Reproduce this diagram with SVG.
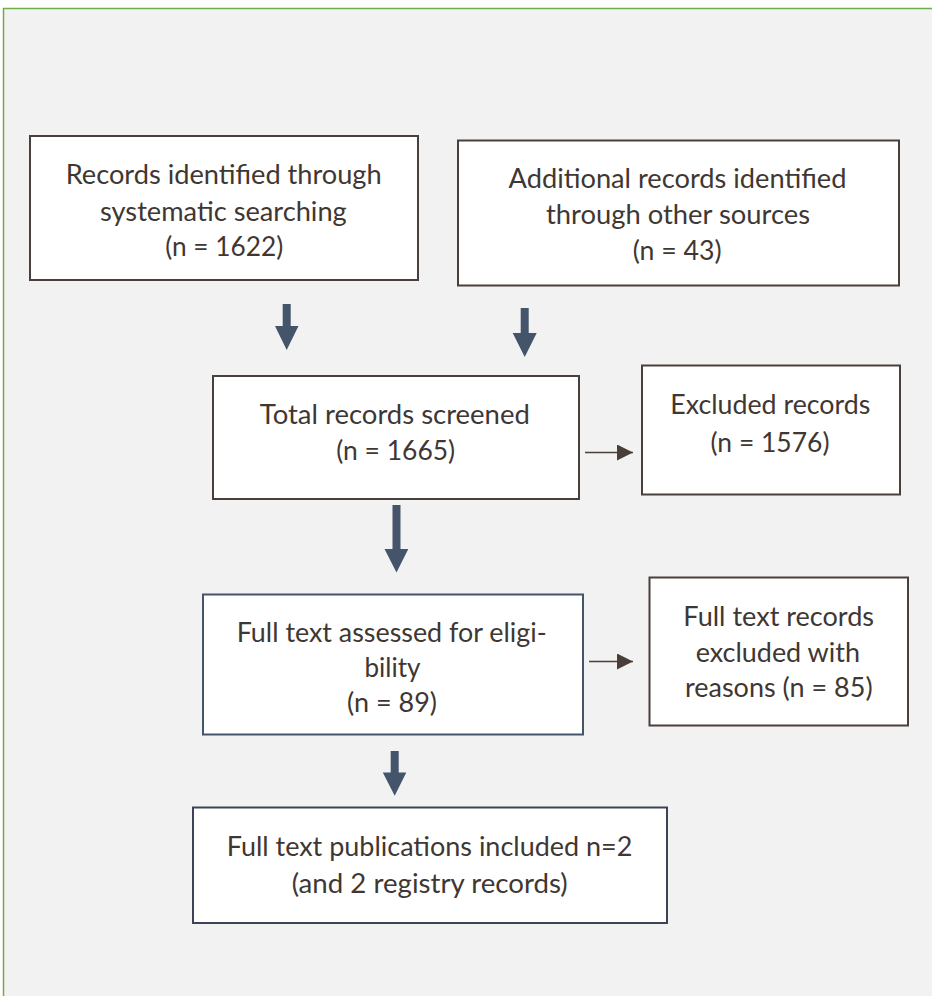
<svg xmlns="http://www.w3.org/2000/svg" width="932" height="996" viewBox="0 0 932 996">
<defs>
<style>
.box{fill:#ffffff;stroke-width:2}
.brown{stroke:#4a403b}
.navy{stroke:#44546a}
.t{font-family:Lato,"Open Sans","Liberation Sans",sans-serif;font-size:26px;fill:#3f3733;text-anchor:middle}
.blk{fill:#44546a}
.ln{stroke:#4a3f38;stroke-width:1.6;fill:none}
</style>
<marker id="ah" markerWidth="16" markerHeight="16" refX="16" refY="8" orient="auto" markerUnits="userSpaceOnUse">
<path d="M0,0 L16,8 L0,16 Z" fill="#4a3f38"/>
</marker>
</defs>
<rect x="0" y="0" width="932" height="996" fill="#ffffff"/>
<rect x="3.5" y="8.5" width="940" height="1000" fill="#f2f2f2" stroke="#70ad47" stroke-width="1.5"/>

<g id="connectors">
<polygon class="blk" points="282.7,304 290.7,304 290.7,326 298.5,326 286.7,350 275,326 282.7,326"/>
<polygon class="blk" points="520.7,308 528.7,308 528.7,333 536.7,333 524.7,357 512.7,333 520.7,333"/>
<polygon class="blk" points="392.5,505 400.5,505 400.5,549 408.3,549 396.5,572.5 384.5,549 392.5,549"/>
<polygon class="blk" points="390.7,751 398.7,751 398.7,772.5 406.3,772.5 394.7,795.8 382.8,772.5 390.7,772.5"/>
<line class="ln" x1="585" y1="452.5" x2="633" y2="452.5" marker-end="url(#ah)"/>
<line class="ln" x1="589" y1="661.5" x2="633" y2="661.5" marker-end="url(#ah)"/>
</g>

<g id="n1">
<rect class="box brown" x="30" y="136" width="388" height="144"/>
<text class="t" x="223.7" y="184.3" textLength="316" lengthAdjust="spacingAndGlyphs">Records identified through</text>
<text class="t" x="223.4" y="220.5" textLength="246.7" lengthAdjust="spacingAndGlyphs">systematic searching</text>
<text class="t" x="224.2" y="256.3" textLength="118" lengthAdjust="spacingAndGlyphs">(n = 1622)</text>
</g>

<g id="n2">
<rect class="box brown" x="458" y="140.5" width="441" height="145"/>
<text class="t" x="677.5" y="188.3" textLength="338" lengthAdjust="spacingAndGlyphs">Additional records identified</text>
<text class="t" x="678" y="224" textLength="264" lengthAdjust="spacingAndGlyphs">through other sources</text>
<text class="t" x="677.2" y="259.5" textLength="89" lengthAdjust="spacingAndGlyphs">(n = 43)</text>
</g>

<g id="n3">
<rect class="box brown" x="213" y="376" width="366" height="123"/>
<text class="t" x="394.8" y="424" textLength="270" lengthAdjust="spacingAndGlyphs">Total records screened</text>
<text class="t" x="395.7" y="460" textLength="119" lengthAdjust="spacingAndGlyphs">(n = 1665)</text>
</g>

<g id="n4">
<rect class="box brown" x="642" y="365.5" width="258" height="129"/>
<text class="t" x="770.3" y="414" textLength="200" lengthAdjust="spacingAndGlyphs">Excluded records</text>
<text class="t" x="770" y="451.7" textLength="119" lengthAdjust="spacingAndGlyphs">(n = 1576)</text>
</g>

<g id="n5">
<rect class="box navy" x="203" y="594.5" width="380" height="140"/>
<text class="t" x="391.7" y="642.3" textLength="310" lengthAdjust="spacingAndGlyphs">Full text assessed for eligi-</text>
<text class="t" x="392.5" y="677.3" textLength="56" lengthAdjust="spacingAndGlyphs">bility</text>
<text class="t" x="392" y="711.7" textLength="90" lengthAdjust="spacingAndGlyphs">(n = 89)</text>
</g>

<g id="n6">
<rect class="box brown" x="649.5" y="577.5" width="258.5" height="148"/>
<text class="t" x="778.7" y="625.7" textLength="190.7" lengthAdjust="spacingAndGlyphs">Full text records</text>
<text class="t" x="777.8" y="661.7" textLength="164.3" lengthAdjust="spacingAndGlyphs">excluded with</text>
<text class="t" x="778.8" y="696.7" textLength="187.7" lengthAdjust="spacingAndGlyphs">reasons (n = 85)</text>
</g>

<g id="n7">
<rect class="box navy" x="193" y="807.5" width="474" height="115.5" style="stroke:#3b4457"/>
<text class="t" x="429.5" y="856" textLength="405.7" lengthAdjust="spacingAndGlyphs">Full text publications included n=2</text>
<text class="t" x="429.7" y="892.7" textLength="276" lengthAdjust="spacingAndGlyphs">(and 2 registry records)</text>
</g>
</svg>
